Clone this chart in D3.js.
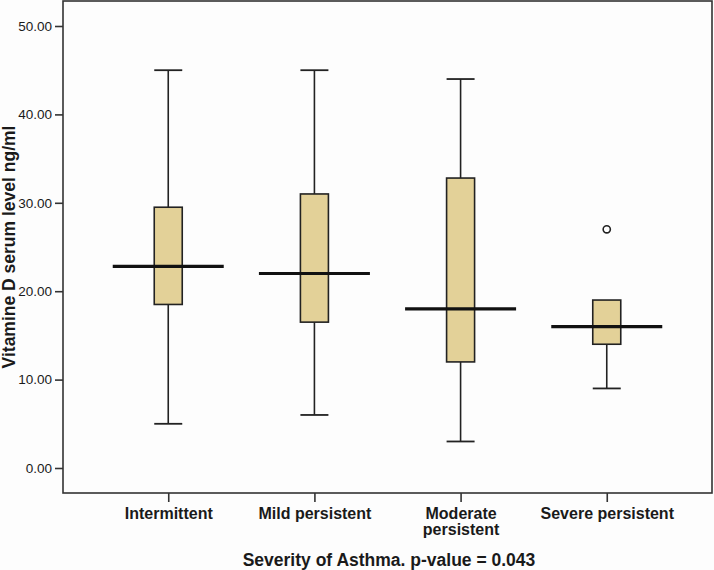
<!DOCTYPE html>
<html>
<head>
<meta charset="utf-8">
<script src="https://cdn.jsdelivr.net/npm/d3@7"></script>
<style>
  html, body { margin: 0; padding: 0; background: #fdfdfd; }
  svg { display: block; }
  text { font-family: "Liberation Sans", Arial, sans-serif; fill: #1a1a1a; }
</style>
</head>
<body>
<svg id="chart" width="714" height="570"></svg>
<script>
// ---- data ----
const categories = ["Intermittent", "Mild persistent", "Moderate persistent", "Severe persistent"];
const tickLabels = [["Intermittent"], ["Mild persistent"], ["Moderate", "persistent"], ["Severe persistent"]];
const whiskerLow = [5, 6, 3, 9];
const q1 = [18.5, 16.5, 12, 14];
const median = [22.8, 22, 18, 16];
const q3 = [29.5, 31, 32.8, 19];
const whiskerHigh = [45, 45, 44, 19];
const outliers = [[], [], [], [27]];
const yTicks = [0, 10, 20, 30, 40, 50];
const xTitle = "Severity of Asthma. p-value = 0.043";
const yTitle = "Vitamine D serum level ng/ml";

// ---- layout ----
const svg = d3.select("#chart");
const frame = { left: 63, right: 712, top: 1, bottom: 493 };

const x = d3.scalePoint().domain(categories).range([frame.left, frame.right]).padding(0.72);
const y = d3.scaleLinear().domain([0, 50]).range([468, 26]);

const boxW = 28, medW = 111;
const dark = "#222";

const rows = categories.map((c, i) => ({
  c, lo: whiskerLow[i], q1: q1[i], med: median[i], q3: q3[i], hi: whiskerHigh[i], out: outliers[i]
}));

// frame
svg.append("rect")
  .attr("x", frame.left).attr("y", frame.top)
  .attr("width", frame.right - frame.left).attr("height", frame.bottom - frame.top)
  .attr("fill", "none").attr("stroke", "#333").attr("stroke-width", 1.6);

// y axis
const yAxis = d3.axisLeft(y).tickValues(yTicks).tickSize(8).tickPadding(3).tickFormat(d3.format(".2f"));
const gy = svg.append("g").attr("transform", `translate(${frame.left},0)`).call(yAxis);
gy.select(".domain").remove();
gy.selectAll(".tick line").attr("stroke", "#333").attr("stroke-width", 1.6);
gy.selectAll(".tick text").style("font-size", "13.5px").style("font-family", "'Liberation Sans', Arial, sans-serif").attr("fill", "#1a1a1a");

// x axis
const xAxis = d3.axisBottom(x).tickSize(9).tickFormat("");
const gx = svg.append("g").attr("transform", `translate(0,${frame.bottom})`).call(xAxis);
gx.select(".domain").remove();
gx.selectAll(".tick line").attr("stroke", "#333").attr("stroke-width", 1.6);
gx.selectAll(".tick").each(function(d, i) {
  const t = d3.select(this).append("text")
    .attr("text-anchor", "middle")
    .style("font-size", "16px").style("font-weight", "bold");
  tickLabels[i].forEach((line, k) => {
    t.append("tspan").attr("x", 0).attr("y", 26 + k * 16).text(line);
  });
});

// boxes
const g = svg.append("g");
rows.forEach(r => {
  const cx = x(r.c);
  // whiskers
  g.append("line").attr("x1", cx).attr("x2", cx).attr("y1", y(r.q3)).attr("y2", y(r.hi))
    .attr("stroke", dark).attr("stroke-width", 1.6);
  g.append("line").attr("x1", cx).attr("x2", cx).attr("y1", y(r.q1)).attr("y2", y(r.lo))
    .attr("stroke", dark).attr("stroke-width", 1.6);
  // caps
  if (r.hi > r.q3) {
    g.append("line").attr("x1", cx - boxW / 2).attr("x2", cx + boxW / 2).attr("y1", y(r.hi)).attr("y2", y(r.hi))
      .attr("stroke", dark).attr("stroke-width", 1.8);
  }
  g.append("line").attr("x1", cx - boxW / 2).attr("x2", cx + boxW / 2).attr("y1", y(r.lo)).attr("y2", y(r.lo))
    .attr("stroke", dark).attr("stroke-width", 1.8);
  // box
  g.append("rect").attr("x", cx - boxW / 2).attr("y", y(r.q3))
    .attr("width", boxW).attr("height", y(r.q1) - y(r.q3))
    .attr("fill", "#e3d198").attr("stroke", dark).attr("stroke-width", 1.6);
  // median
  g.append("line").attr("x1", cx - medW / 2).attr("x2", cx + medW / 2).attr("y1", y(r.med)).attr("y2", y(r.med))
    .attr("stroke", "#111").attr("stroke-width", 3.2);
  // outliers
  r.out.forEach(v => {
    g.append("circle").attr("cx", cx).attr("cy", y(v)).attr("r", 3.6)
      .attr("fill", "#fff").attr("stroke", dark).attr("stroke-width", 1.6);
  });
});

// titles
svg.append("text").attr("x", 389).attr("y", 566).attr("text-anchor", "middle")
  .style("font-size", "17.5px").style("font-weight", "bold").text(xTitle);
svg.append("text").attr("transform", "translate(15,247) rotate(-90)").attr("text-anchor", "middle")
  .style("font-size", "17.5px").style("font-weight", "bold").text(yTitle);
</script>
</body>
</html>
